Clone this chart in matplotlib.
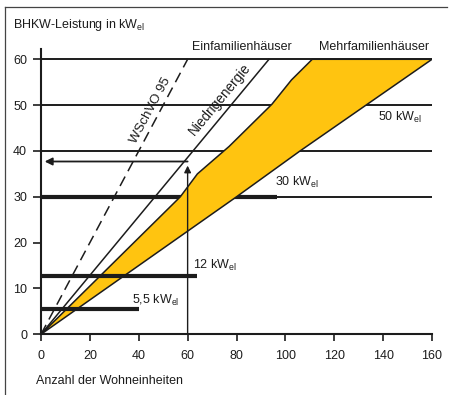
import matplotlib
matplotlib.use('Agg')
import matplotlib.pyplot as plt
from matplotlib.lines import Line2D

plt.rcParams['font.family'] = ['Liberation Sans', 'DejaVu Sans']
plt.rcParams['mathtext.fontset'] = 'custom'
plt.rcParams['mathtext.rm'] = 'Liberation Sans'
plt.rcParams['mathtext.default'] = 'regular'

# Data
x_ticks = [0, 20, 40, 60, 80, 100, 120, 140, 160]
y_ticks = [0, 10, 20, 30, 40, 50, 60]

# Einfamilienhaeuser lines (x, y)
wschvo_x = [0, 60]
wschvo_y = [0, 60]
niedrig_x = [0, 93.3]
niedrig_y = [0, 60]

# Mehrfamilienhaeuser band
band_upper_x = [0, 57, 64, 77, 94.5, 102.5, 111]
band_upper_y = [0, 30, 35, 41, 50.2, 55.5, 60]
band_lower_x = [0, 80, 106, 133, 160]
band_lower_y = [0, 30, 40, 50, 60]

# power levels
grid_levels = [40, 50, 60]
bar_levels = [5.5, 12.8, 30]
bar_ends = [40, 64, 96.5]
bar_labels = ['5,5 kW$_{el}$', '12 kW$_{el}$', '30 kW$_{el}$']
label_50 = '50 kW$_{el}$'

# example reading: 60 units -> ~37.5 kW
example_x = 60
example_y = 37.7

ink = '#1c1c1c'
yellow = '#ffc410'

fig = plt.figure(figsize=(4.55, 3.95), dpi=100)
ax = fig.add_axes([41/455, (395-334.3)/395, 391/455, (334.3-49.2)/395])
ax.set_xlim(0, 160)
ax.set_ylim(0, 62.2)

# horizontal lines (under the band)
ax.hlines(30, 0, 160, color=ink, lw=1.4, zorder=1)
for lev in grid_levels:
    ax.hlines(lev, 0, 160, color=ink, lw=1.4, zorder=1)
ax.hlines(bar_levels[2], 0, bar_ends[2], color=ink, lw=3.0, zorder=1)

# band
poly_x = band_upper_x + band_lower_x[::-1]
poly_y = band_upper_y + band_lower_y[::-1]
ax.fill(poly_x, poly_y, facecolor=yellow, edgecolor=ink, lw=1.1, zorder=2)

# thick bars over the band
for lev, end in zip(bar_levels[:2], bar_ends[:2]):
    ax.hlines(lev, 0, end, color=ink, lw=3.0, zorder=3)

# Einfamilienhaeuser lines
ax.plot(wschvo_x, wschvo_y, color=ink, lw=1.1, dashes=(7, 4), zorder=3)
ax.plot(niedrig_x, niedrig_y, color=ink, lw=1.1, zorder=3)

# example arrows
ax.annotate('', xy=(example_x, example_y - 0.9), xytext=(example_x, 0),
            arrowprops=dict(arrowstyle='-|>', color=ink, lw=1.0,
                            mutation_scale=10, shrinkA=0, shrinkB=0), zorder=4)
ax.annotate('', xy=(1.5, example_y), xytext=(example_x, example_y),
            arrowprops=dict(arrowstyle='-|>', color=ink, lw=1.3,
                            mutation_scale=11, shrinkA=0, shrinkB=0), zorder=4)

fs = 9
ax.text(37.1, 6.6, bar_labels[0], fontsize=fs, color=ink, va='baseline')
ax.text(62.4, 14.3, bar_labels[1], fontsize=fs, color=ink, va='baseline')
ax.text(95.7, 32.4, bar_labels[2], fontsize=fs, color=ink, va='baseline')
ax.text(137.9, 46.5, label_50, fontsize=fs, color=ink, va='baseline')

ax.text(45.0, 48.9, 'WSchVO 95', fontsize=9.5, color=ink, rotation=61.9,
        ha='center', va='center', rotation_mode='anchor')
ax.text(73.0, 51.2, 'Niedrigenergie', fontsize=9.8, color=ink, rotation=50.4,
        ha='center', va='center', rotation_mode='anchor')

ax.text(61.6, 62.0, 'Einfamilienhäuser', fontsize=fs, color=ink, va='baseline')
ax.text(113.9, 62.1, 'Mehrfamilienhäuser', fontsize=fs, color=ink, va='baseline')

# axes styling
for s in ['top', 'right']:
    ax.spines[s].set_visible(False)
for s in ['left', 'bottom']:
    ax.spines[s].set_linewidth(1.5)
    ax.spines[s].set_color(ink)
ax.set_xticks(x_ticks)
ax.set_yticks(y_ticks)
ax.tick_params(axis='y', length=6, width=1.2, pad=4, labelsize=fs, colors=ink)
ax.tick_params(axis='x', length=5, width=1.2, pad=6, labelsize=fs, colors=ink)

fig.text(13/455, 1-28.3/395, 'BHKW-Leistung in kW$_{el}$', fontsize=fs, color=ink, va='baseline')
fig.text(36/455, 1-384/395, 'Anzahl der Wohneinheiten', fontsize=fs, color=ink, va='baseline')

# frame lines (left and top)
fig.add_artist(Line2D([4.5/455, 4.5/455], [0, 1-7/395], color='#444444', lw=0.9))
fig.add_artist(Line2D([4.5/455, 447/455], [1-7/395, 1-7/395], color='#444444', lw=0.9))

fig.savefig('out.png', dpi=100)
